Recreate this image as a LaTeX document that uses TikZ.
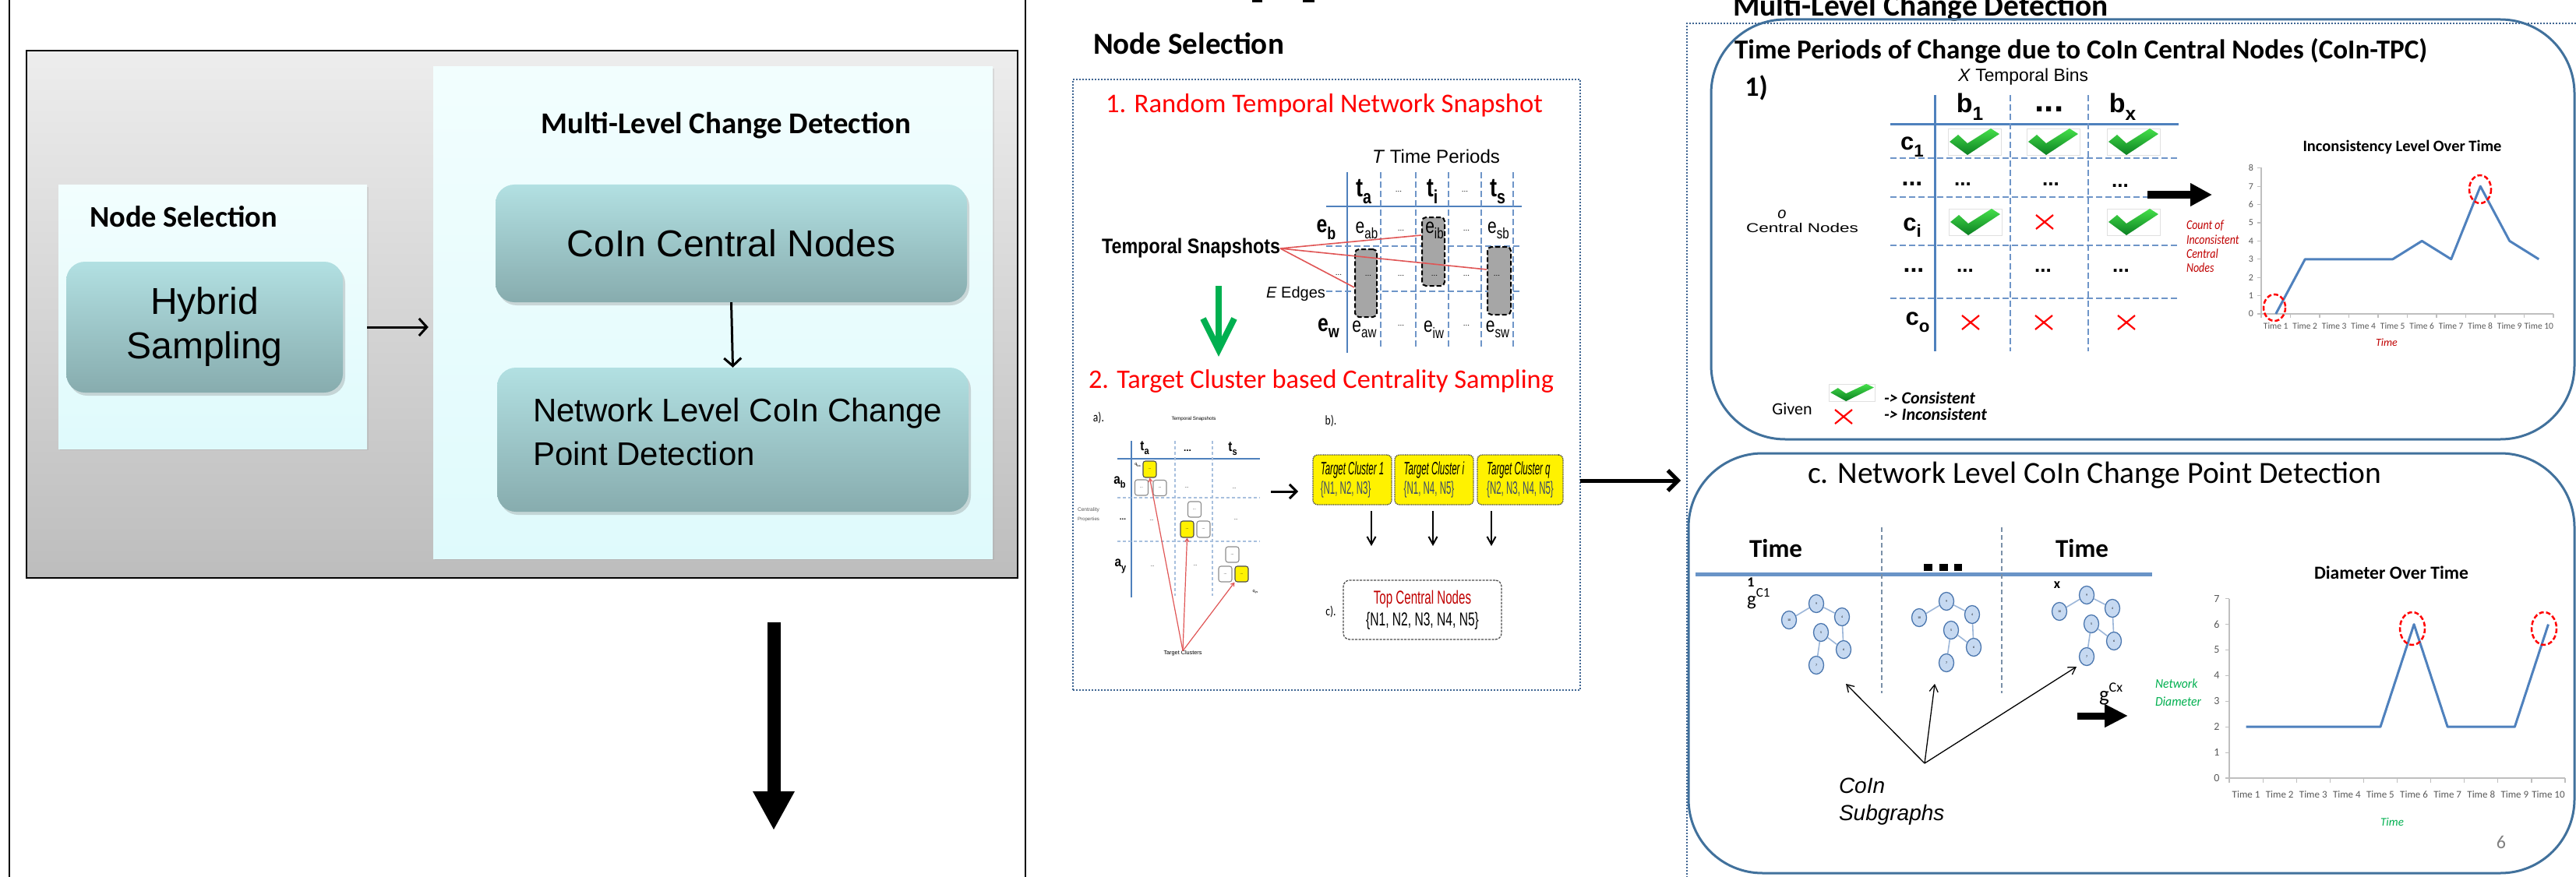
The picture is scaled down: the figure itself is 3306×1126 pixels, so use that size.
\documentclass[tikz,border=0pt]{standalone}
\usepackage{fontspec}
\usepackage{graphicx}
\setmainfont{Carlito}
\newfontfamily\arial{Liberation Sans}
\usetikzlibrary{arrows.meta,shadows,shapes.geometric,calc}

\definecolor{tealtop}{HTML}{B2E0E2}
\definecolor{tealbot}{HTML}{87ACAE}
\definecolor{cyantop}{HTML}{F2FEFE}
\definecolor{cyanbot}{HTML}{DFFAFC}
\definecolor{graytop}{HTML}{EDEDED}
\definecolor{graybot}{HTML}{BDBDBD}
\definecolor{officeblue}{HTML}{4F81BD}
\definecolor{frameblue}{HTML}{41719C}
\definecolor{dotblue}{HTML}{3F6592}
\definecolor{dashblue}{HTML}{6E95C8}
\definecolor{pptred}{HTML}{FF0000}
\definecolor{darkred}{HTML}{C00000}
\definecolor{pptgreen}{HTML}{00B050}
\definecolor{nodefill}{HTML}{C6D9F1}
\definecolor{nodeedge}{HTML}{4A76AE}
\definecolor{edgeblue}{HTML}{9DB7D9}
\definecolor{slate}{HTML}{3A4A6A}
\definecolor{axisgray}{HTML}{BFBFBF}
\definecolor{labgray}{HTML}{595959}
\definecolor{chkhi}{HTML}{45E04A}
\definecolor{chklo}{HTML}{0B7F22}
\definecolor{snapgray}{HTML}{A6A6A6}
\definecolor{linkred}{HTML}{E05555}
\definecolor{sepgray}{HTML}{7A90A8}

\newcommand\fs[1]{\fontsize{#1}{#1}\selectfont}
\newcommand\rw[2]{\resizebox{#1pt}{!}{#2}}
\newcommand\rwh[3]{\resizebox{#1pt}{#2pt}{#3}}
\newcommand\hs[2]{\scalebox{#1}[1]{#2}}
\newcommand\lo[1]{\raisebox{-0.28em}{\scalebox{0.72}{#1}}}

\tikzset{
  lbl/.style={inner sep=0pt, outer sep=0pt},
  cyanpanel/.style={inner sep=0pt, top color=cyantop, bottom color=cyanbot, draw=none,
     drop shadow={shadow xshift=2pt, shadow yshift=-2pt, opacity=0.18}},
  tealbox/.style={inner sep=0pt, rounded corners=24pt, top color=tealtop, bottom color=tealbot,
     drop shadow={shadow xshift=3pt, shadow yshift=-4pt, opacity=0.3}},
  barb/.style={line width=3pt, -{Straight Barb[length=10pt,width=22pt]}},
  thinarr/.style={line width=2pt, -{Straight Barb[length=10pt,width=11pt]}},
  tline/.style={officeblue, line width=2.5pt},
  tdash/.style={dashblue, line width=1.4pt, dash pattern=on 8pt off 4pt},
  lightdash/.style={dashblue!60, line width=1.2pt, dash pattern=on 4pt off 3pt},
  snapbox/.style={draw=black, fill=snapgray, line width=2pt, dash pattern=on 6pt off 3pt, rounded corners=5pt, inner sep=0pt},
  cellbox/.style={draw=black!45, fill=white, line width=1.1pt, rounded corners=3pt, inner sep=0pt, minimum width=17pt, minimum height=20pt, font=\fs{5}},
  ycellbox/.style={cellbox, fill=yellow, draw=black!70},
  clusterbox/.style={fill=yellow, draw=black!75, densely dotted, line width=1.3pt, rounded corners=6pt, inner sep=0pt, minimum height=64pt},
  roundframe/.style={draw=frameblue, line width=3pt, rounded corners=95pt, inner sep=0pt},
  gnode/.style={ellipse, draw=nodeedge, fill=nodefill, line width=1.3pt, minimum width=19pt, minimum height=23pt, inner sep=0pt, font=\fs{4}},
  gedge/.style={edgeblue, line width=1.6pt},
  redring/.style={pptred, line width=2.5pt, dash pattern=on 6pt off 3pt},
  snapred/.style={linkred, line width=1.6pt},
  chk/.pic={
    \fill[white] (-34,-17) rectangle (34,17);
    \draw[black!12, line width=0.8pt] (-34,-17) rectangle (34,17);
    \shade[top color=chkhi, bottom color=chklo] (-32,0) -- (-21,-9) -- (-9,2) -- (21,-17) -- (32,-10) -- (-9,17) -- cycle;
  },
  xmk/.pic={
    \draw[pptred, line width=2.2pt] (-11,-9) -- (11,9) (-11,9) -- (11,-9);
  },
}

\begin{document}
\begin{tikzpicture}[x=1pt,y=-1pt]
\useasboundingbox (0,0) rectangle (3306,1126);
\fill[white] (0,0) rectangle (3306,1126);

%% ---------------- left column: overview ----------------
\coordinate (lpA) at (12,0);   \coordinate (lpB) at (12,1126);
\coordinate (lpC) at (1316,0); \coordinate (lpD) at (1316,1126);
\draw[line width=2pt] (lpA) -- (lpB);
\draw[line width=2pt] (lpC) -- (lpD);

\node[lbl, draw=black, line width=2.5pt, top color=graytop, bottom color=graybot,
      minimum width=1272pt, minimum height=677pt] (graybox) at (670,403.5) {};

\node[cyanpanel, minimum width=396pt, minimum height=338pt] (nspanel) at (273,407) {};
\node[lbl, anchor=base west] (nstitle) at (115,291) {\rw{241}{\bfseries Node Selection}};
\node[tealbox, minimum width=355pt, minimum height=168pt, align=center,
      font=\arial\fontsize{48}{57}\selectfont] (hybrid) at (262.5,420) {Hybrid\\Sampling};

\node[cyanpanel, minimum width=718pt, minimum height=631pt] (mlpanel) at (915,401.5) {};
\node[lbl, anchor=base] (mltitle) at (932,172) {\rw{475}{\bfseries Multi-Level Change Detection}};
\node[tealbox, minimum width=605pt, minimum height=151pt, font=\arial\fs{48}] (coin) at (938.5,312.5) {CoIn Central Nodes};
\node[tealbox, minimum width=605pt, minimum height=185pt] (netbox) at (940.5,564.5) {};
\node[lbl, anchor=west, align=left, font=\arial\fontsize{42}{56}\selectfont] (nettxt) at (684,554) {Network Level CoIn Change\\Point Detection};

\draw[barb, shorten >=6pt] (nspanel.east |- hybrid.center) -- (mlpanel.west |- hybrid.center);
\draw[barb] (coin.south) -- (netbox.north);

\coordinate (bigtop) at (993,799); \coordinate (bigtip) at (993,1066);
\draw[line width=17pt, -{Triangle[length=50pt,width=50pt]}] (bigtop) -- (bigtip);

%% ---------------- middle column: node selection ----------------
\fill (1607,0) rectangle (1620,3);
\fill (1672,0) rectangle (1687,3);
\node[lbl, anchor=base] (nstitle2) at (1525.5,70) {\rw{245}{\bfseries Node Selection}};
\node[lbl, draw=dotblue, line width=2pt, dotted, minimum width=651pt, minimum height=784pt] (nsbox) at (1702.5,494) {};
\node[lbl, anchor=base, text=pptred] (stepone) at (1699.5,145) {\rw{561}{1. Random Temporal Network Snapshot}};
\node[lbl] (tper) at (1843,201) {\rw{164}{\arial\textit{T} Time Periods}};

% snapshot table
\draw[tline] (1729,221) -- (1729,453);
\draw[tline] (1702,265) -- (1953,265);
\foreach \x in {1772,1817,1859,1901,1942} \draw[tdash, line width=1.1pt] (\x,221) -- (\x,446);
\foreach \y in {316,374} \draw[tdash] (1702,\y) -- (1953,\y);
\node[snapbox, minimum width=28pt, minimum height=87pt] (sna) at (1753,363.5) {};
\node[snapbox, minimum width=29pt, minimum height=88pt] (sni) at (1839.5,323) {};
\node[snapbox, minimum width=30pt, minimum height=87pt] (sns) at (1924,360.5) {};

\node[lbl, font=\arial\bfseries\fs{34}] (hta) at (1750,246) {\hs{0.8}{t\lo{a}}};
\node[lbl, font=\arial\fs{10}] (hdA) at (1795,246) {...};
\node[lbl, font=\arial\bfseries\fs{34}] (hti) at (1838,246) {\hs{0.8}{t\lo{i}}};
\node[lbl, font=\arial\fs{10}] (hdB) at (1880,246) {...};
\node[lbl, font=\arial\bfseries\fs{34}] (hts) at (1922,246) {\hs{0.8}{t\lo{s}}};

\node[lbl, font=\arial\bfseries\fs{31}] (reb) at (1702,295) {\hs{0.8}{e\lo{b}}};
\node[lbl, font=\arial\fs{10}] (rdots) at (1718,353) {...};
\node[lbl, font=\arial\bfseries\fs{31}] (rew) at (1705,421) {\hs{0.8}{e\lo{w}}};

\node[lbl, font=\arial\fs{27}] (eab) at (1754,296) {\hs{0.78}{e\lo{ab}}};
\node[lbl, font=\arial\fs{10}] (ebd1) at (1798,296) {...};
\node[lbl, font=\arial\fs{27}] (eib) at (1841,296) {\hs{0.78}{e\lo{ib}}};
\node[lbl, font=\arial\fs{10}] (ebd2) at (1882,296) {...};
\node[lbl, font=\arial\fs{27}] (esb) at (1923,296) {\hs{0.78}{e\lo{sb}}};
\foreach \x [count=\i] in {1756,1798,1841,1882,1921}
  \node[lbl, font=\arial\fs{10}] (emd\i) at (\x,354) {...};
\node[lbl, font=\arial\fs{27}] (eaw) at (1751,423) {\hs{0.78}{e\lo{aw}}};
\node[lbl, font=\arial\fs{10}] (ewd1) at (1798,418) {...};
\node[lbl, font=\arial\fs{27}] (eiw) at (1840,423) {\hs{0.78}{e\lo{iw}}};
\node[lbl, font=\arial\fs{10}] (ewd2) at (1882,418) {...};
\node[lbl, font=\arial\fs{27}] (esw) at (1922,423) {\hs{0.78}{e\lo{sw}}};

\node[lbl] (tsnap) at (1528.5,319) {\rwh{229}{19.5}{\arial\bfseries Temporal Snapshots}};
\draw[snapred] (tsnap.east) -- ([yshift=21pt]sni.west);
\draw[snapred] (tsnap.east) -- ([yshift=14.5pt]sns.west);
\draw[snapred] (tsnap.east) -- ([yshift=-5.5pt]sna.west);
\node[lbl] (eedges) at (1663,377) {\arial\fs{20}\textit{E} Edges};

\coordinate (gtop) at (1564,367); \coordinate (gtip) at (1564,449);
\draw[pptgreen, line width=8pt] (gtop) -- ([yshift=6pt]gtip);
\draw[pptgreen, line width=8pt, line join=miter, miter limit=4]
  ([xshift=-20pt,yshift=40pt]gtip) -- (gtip) -- ([xshift=20pt,yshift=40pt]gtip);

\node[lbl, anchor=base, text=pptred] (steptwo) at (1695.5,498) {\rw{597}{2. Target Cluster based Centrality Sampling}};

% a) centrality table
\node[lbl, font=\fs{17}] (lba) at (1410,536) {\hs{0.8}{a).}};
\node[lbl] (tsmall) at (1532,538) {\rw{57}{\arial Temporal Snapshots}};
\draw[tline, line width=2pt] (1452,566) -- (1452,767);
\draw[tline, line width=2pt] (1434,589) -- (1617,589);
\foreach \x in {1508,1556} \draw[lightdash] (\x,566) -- (\x,765);
\foreach \y in {639,695} \draw[lightdash] (1434,\y) -- (1617,\y);
\node[lbl, font=\arial\bfseries\fs{18}] (sta) at (1469,575) {\hs{0.85}{t\lo{a}}};
\node[lbl, font=\arial\bfseries\fs{12}] (std) at (1524,579) {...};
\node[lbl, font=\arial\bfseries\fs{18}] (sts) at (1582,576) {\hs{0.85}{t\lo{s}}};
\node[lbl, font=\arial\bfseries\fs{18}] (sab) at (1437,619) {\hs{0.85}{a\lo{b}}};
\node[lbl, font=\arial\bfseries\fs{10}] (sad) at (1441,667) {...};
\node[lbl, font=\arial\bfseries\fs{18}] (say) at (1438,727) {\hs{0.85}{a\lo{y}}};
\node[lbl, anchor=west, text=labgray] (cprop1) at (1383,655) {\rw{28}{\arial Centrality}};
\node[lbl, anchor=west, text=labgray] (cprop2) at (1383,667) {\rw{28}{\arial Properties}};

\node[ycellbox, minimum height=21pt] (yq1) at (1475.5,602.5) {...};
\node[cellbox] (wq1) at (1465,626) {...};
\node[cellbox] (wq2) at (1488.5,626.5) {...};
\node[lbl, font=\fs{6}] (sd1) at (1523,626) {...};
\node[lbl, font=\fs{6}] (sd2) at (1584,627) {...};
\node[lbl, font=\fs{6}] (sd3) at (1478,668) {...};
\node[cellbox] (wq3) at (1533,654) {...};
\node[ycellbox, minimum height=21pt] (yq2) at (1523.5,679.5) {...};
\node[cellbox, minimum height=21pt] (wq4) at (1544.5,679.5) {...};
\node[lbl, font=\fs{6}] (sd4) at (1586,667) {...};
\node[lbl, font=\fs{6}] (sd5) at (1479,727) {...};
\node[lbl, font=\fs{6}] (sd6) at (1534,726) {...};
\node[cellbox] (wq5) at (1581.5,712) {...};
\node[cellbox] (wq6) at (1572.5,737) {...};
\node[ycellbox] (yq3) at (1593.5,737) {...};
\node[lbl, font=\fs{6}] (qba) at (1460,597) {q\lo{ba}};
\node[lbl, font=\fs{6}] (qys) at (1611,760) {q\lo{ys}};
\node[lbl] (tclu) at (1518,839) {\rw{49}{\arial Target Clusters}};
\draw[snapred, line width=1.2pt, -{Straight Barb[length=4pt,width=5pt]}] (tclu.north) -- (yq1.south);
\draw[snapred, line width=1.2pt, -{Straight Barb[length=4pt,width=5pt]}] (tclu.north) -- (yq2.south);
\draw[snapred, line width=1.2pt, -{Straight Barb[length=4pt,width=5pt]}] (tclu.north) -- (yq3.south west);

\coordinate (abA) at (1631,631); \coordinate (abB) at (1666,631);
\draw[barb, -{Straight Barb[length=9pt,width=18pt]}] (abA) -- (abB);

% b) target clusters
\node[lbl, font=\fs{17}] (lbb) at (1708,540) {\hs{0.8}{b).}};
\node[clusterbox, minimum width=101pt, align=left, font=\arial\fontsize{23}{25}\selectfont] (cla) at (1735.5,616)
  {\hs{0.5}{\itshape Target Cluster 1}\\\hs{0.5}{\color{slate}\{N1, N2, N3\}}};
\node[clusterbox, minimum width=101pt, align=left, font=\arial\fontsize{23}{25}\selectfont] (clb) at (1840.5,616)
  {\hs{0.5}{\itshape Target Cluster i}\\\hs{0.5}{\color{slate}\{N1, N4, N5\}}};
\node[clusterbox, minimum width=110pt, align=left, font=\arial\fontsize{23}{25}\selectfont] (clc) at (1951,616)
  {\hs{0.5}{\itshape Target Cluster q}\\\hs{0.5}{\color{slate}\{N2, N3, N4, N5\}}};
\coordinate (da1) at (1760,656); \coordinate (db1) at (1760,701);
\coordinate (da2) at (1839,656); \coordinate (db2) at (1839,701);
\coordinate (da3) at (1914,656); \coordinate (db3) at (1914,701);
\draw[thinarr] (da1) -- (db1);
\draw[thinarr] (da2) -- (db2);
\draw[thinarr] (da3) -- (db3);

% c) top central nodes
\node[lbl, font=\fs{17}] (lbc) at (1708,785) {\hs{0.8}{c).}};
\node[lbl, draw=black!70, dash pattern=on 3pt off 1.5pt, line width=1.3pt, rounded corners=8pt,
      minimum width=203pt, minimum height=76pt, align=center, font=\arial\fontsize{24}{28}\selectfont] (topc) at (1825.5,783)
  {\hs{0.63}{\color{darkred}Top Central Nodes}\\\hs{0.65}{\{N1, N2, N3, N4, N5\}}};

\coordinate (raEnd) at (2157,617);
\draw[line width=5pt, -{Straight Barb[length=13pt,width=26pt]}] (nsbox.east |- raEnd) -- (raEnd);

%% ---------------- right column: multi-level change detection ----------------
\node[lbl, anchor=base west] (mltitle2) at (2224,21) {\rw{482}{\bfseries Multi-Level Change Detection}};
\draw[dotblue, dotted, line width=2pt] (3306,30) -- (2165,30) -- (2165,1126);
\node[roundframe, minimum width=1108pt, minimum height=539pt] (tpcbox) at (2750,294.5) {};
\node[roundframe, minimum width=1137pt, minimum height=539pt] (netlvl) at (2735.5,851.5) {};

\node[lbl, anchor=base west] (tpctitle) at (2226,76) {\rw{889}{\bfseries Time Periods of Change due to CoIn Central Nodes (CoIn-TPC)}};
\node[lbl, font=\bfseries\fs{36}] (one) at (2254,113) {1)};
\node[lbl] (xbins) at (2596.5,99) {\rw{167}{\arial\textit{X} Temporal Bins}};

% consistency table
\draw[tline, line width=3pt] (2483,122) -- (2483,451);
\draw[tline, line width=3pt] (2426,160) -- (2796,160);
\foreach \x in {2580,2680} \draw[tdash] (\x,122) -- (\x,451);
\foreach \y in {203,253,315,383} \draw[tdash] (2426,\y) -- (2796,\y);

\node[lbl, font=\arial\bfseries\fs{34}] (hbone) at (2528,137) {b\lo{1}};
\node[lbl, font=\arial\bfseries\fs{44}] (hbdots) at (2630,140) {...};
\node[lbl, font=\arial\bfseries\fs{34}] (hbx) at (2724,137) {b\lo{x}};
\node[lbl, font=\arial\bfseries\fs{31}] (rcone) at (2454,189) {c\lo{1}};
\node[lbl, font=\arial\bfseries\fs{32}] (rcd1) at (2454,236) {...};
\node[lbl, font=\arial\bfseries\fs{31}] (rci) at (2454,292) {c\lo{i}};
\node[lbl, font=\arial\bfseries\fs{32}] (rcd2) at (2456,347) {...};
\node[lbl, font=\arial\bfseries\fs{31}] (rco) at (2461,414) {c\lo{o}};

\pic (k11) at (2534,182) {chk};
\pic (k12) at (2635,182) {chk};
\pic (k13) at (2738,182) {chk};
\node[lbl, font=\arial\bfseries\fs{26}] (cd21) at (2519,237) {...};
\node[lbl, font=\arial\bfseries\fs{26}] (cd22) at (2632,237) {...};
\node[lbl, font=\arial\bfseries\fs{26}] (cd23) at (2721,239) {...};
\pic (k31) at (2535,285) {chk};
\pic (x32) at (2624,285) {xmk};
\pic (k33) at (2738,285) {chk};
\node[lbl, font=\arial\bfseries\fs{26}] (cd41) at (2522,348) {...};
\node[lbl, font=\arial\bfseries\fs{26}] (cd42) at (2622,348) {...};
\node[lbl, font=\arial\bfseries\fs{26}] (cd43) at (2722,348) {...};
\pic (x51) at (2529,414) {xmk};
\pic (x52) at (2623,414) {xmk};
\pic (x53) at (2729,414) {xmk};

\node[lbl, font=\arial\itshape\fs{20}] (onode) at (2287,275) {o};
\node[lbl] (cnodes) at (2313,293) {\rwh{144}{12}{\arial Central Nodes}};

\coordinate (baA) at (2756,250); \coordinate (baB) at (2839,250);
\draw[line width=10pt, -{Triangle[length=28pt,width=28pt]}] (baA) -- (baB);

\node[lbl, anchor=west, text=darkred, font=\itshape\fs{17}] (cnt1) at (2806,290) {\hs{0.82}{Count of}};
\node[lbl, anchor=west, text=darkred, font=\itshape\fs{17}] (cnt2) at (2806,308) {\hs{0.82}{Inconsistent}};
\node[lbl, anchor=west, text=darkred, font=\itshape\fs{17}] (cnt3) at (2806,326) {\hs{0.82}{Central}};
\node[lbl, anchor=west, text=darkred, font=\itshape\fs{17}] (cnt4) at (2806,344) {\hs{0.82}{Nodes}};

% inconsistency chart
\node[lbl, anchor=base] (ictitle) at (3083,195) {\rw{255}{\bfseries Inconsistency Level Over Time}};
\draw[axisgray, line width=1.5pt] (2902,215) -- (2902,403) -- (3277,403);
\foreach \k in {0,...,8} {
  \draw[axisgray, line width=1.2pt] (2897,403-23.4*\k) -- (2902,403-23.4*\k);
  \node[lbl, font=\fs{12}, text=labgray] (ya\k) at (2889,403-23.4*\k) {\k};
}
\foreach \k in {0,...,10} \draw[axisgray, line width=1.2pt] (2902+37.5*\k,403) -- (2902+37.5*\k,408);
\foreach \k in {1,...,10} \node[lbl, font=\fs{11.5}, text=labgray] (xa\k) at (2902+37.5*\k-18.75,419) {Time \k};
\draw[officeblue, line width=3pt, line join=round] (2920.75,403) -- (2958.25,332.8) -- (2995.75,332.8) -- (3033.25,332.8)
  -- (3070.75,332.8) -- (3108.25,309.4) -- (3145.75,332.8) -- (3183.25,239.2) -- (3220.75,309.4) -- (3258.25,332.8);
\draw[redring] (2919,395) ellipse [x radius=14, y radius=17];
\draw[redring] (3183,243) ellipse [x radius=14, y radius=18];
\node[lbl, text=darkred, font=\itshape\fs{14}] (ictime) at (3063,440) {Time};

% legend
\node[lbl, font=\fs{22}] (given) at (2300,525) {Given};
\pic[xscale=0.87, yscale=0.65] (klg) at (2377,504) {chk};
\pic (xlg) at (2366,535) {xmk};
\node[lbl, anchor=west, font=\bfseries\itshape\fs{22}] (lgc) at (2418,511) {-{}> Consistent};
\node[lbl, anchor=west, font=\bfseries\itshape\fs{22}] (lgi) at (2418,532) {-{}> Inconsistent};

% network level panel
\node[lbl, anchor=base west] (nltitle) at (2320,620) {\rw{736}{c. Network Level CoIn Change Point Detection}};
\node[lbl] (timeA) at (2279,704) {\rw{68}{\bfseries Time}};
\node[lbl] (timeB) at (2672,704) {\rw{68}{\bfseries Time}};
\draw[officeblue!85!white, line width=5pt] (2176,737) -- (2762,737);
\fill (2469,724) rectangle (2480,733);
\fill (2489,724) rectangle (2500,733);
\fill (2508,724) rectangle (2518,733);
\draw[sepgray, line width=1.2pt, dash pattern=on 6pt off 4pt] (2415,677) -- (2415,890);
\draw[sepgray, line width=1.2pt, dash pattern=on 6pt off 4pt] (2569,677) -- (2569,890);

\node[lbl, font=\bfseries\fs{18}] (supone) at (2247,748) {1};
\node[lbl, anchor=base west] (gcone) at (2242,777) {\fs{25}g\raisebox{11pt}{\fs{17}C1}};
\node[lbl, font=\bfseries\fs{18}] (supx) at (2640,751) {x};
\node[lbl, anchor=base west] (gcx) at (2694,900) {\fs{27}g\raisebox{12pt}{\fs{18}Cx}};

% subgraphs
\foreach \g/\dx/\dy in {1/0/0, 2/167/-3, 3/347/-11} {
  \node[gnode] (n\g-10) at (2296+\dx,796+\dy) {10};
  \node[gnode] (n\g-9)  at (2331+\dx,775+\dy) {9};
  \node[gnode] (n\g-4)  at (2364+\dx,792+\dy) {4};
  \node[gnode] (n\g-5)  at (2337+\dx,812+\dy) {5};
  \node[gnode] (n\g-6)  at (2366+\dx,834+\dy) {6};
  \node[gnode] (n\g-7)  at (2331+\dx,854+\dy) {7};
  \draw[gedge] (n\g-10) -- (n\g-9);
  \draw[gedge] (n\g-9) -- (n\g-4);
  \draw[gedge] (n\g-4) -- (n\g-6);
  \draw[gedge] (n\g-5) -- (n\g-6);
  \draw[gedge] (n\g-5) -- (n\g-7);
}

\coordinate (csrc) at (2470,980);
\coordinate (cst1) at (2369,878);
\coordinate (cst2) at (2483,878);
\coordinate (cst3) at (2665,856);
\draw[line width=1.3pt, -{Straight Barb[length=9pt,width=11pt]}] (csrc) -- (cst1);
\draw[line width=1.3pt, -{Straight Barb[length=9pt,width=11pt]}] (csrc) -- (cst2);
\draw[line width=1.3pt, -{Straight Barb[length=9pt,width=11pt]}] (csrc) -- (cst3);
\node[lbl, anchor=base west, font=\arial\itshape\fs{28}] (csA) at (2360,1018) {CoIn};
\node[lbl, anchor=base west, font=\arial\itshape\fs{28}] (csB) at (2360,1053) {Subgraphs};

\coordinate (bbA) at (2666,919); \coordinate (bbB) at (2731,919);
\draw[line width=9pt, -{Triangle[length=30pt,width=28pt]}] (bbA) -- (bbB);
\node[lbl, anchor=west, text=pptgreen, font=\itshape\fs{17}] (ndA) at (2766,878) {\hs{0.92}{Network}};
\node[lbl, anchor=west, text=pptgreen, font=\itshape\fs{17}] (ndB) at (2766,901) {\hs{0.92}{Diameter}};

% diameter chart
\node[lbl, anchor=base] (dmtitle) at (3069,743) {\rw{198}{\bfseries Diameter Over Time}};
\draw[axisgray, line width=1.5pt] (2861,769) -- (2861,999) -- (3292,999);
\foreach \k in {0,...,7} {
  \draw[axisgray, line width=1.2pt] (2856,999-32.9*\k) -- (2861,999-32.9*\k);
  \node[lbl, font=\fs{14}, text=labgray] (yb\k) at (2845,999-32.9*\k) {\k};
}
\foreach \k in {0,...,10} \draw[axisgray, line width=1.2pt] (2861+43.1*\k,999) -- (2861+43.1*\k,1005);
\foreach \k in {1,...,10} \node[lbl, font=\fs{13}, text=labgray] (xb\k) at (2861+43.1*\k-21.55,1020) {Time \k};
\draw[officeblue, line width=3pt, line join=round] (2882.55,933.2) -- (3054.95,933.2) -- (3098.05,801.6)
  -- (3141.15,933.2) -- (3227.35,933.2) -- (3270.45,801.6);
\draw[redring] (3096,807) ellipse [x radius=16, y radius=21];
\draw[redring] (3265,807) ellipse [x radius=16, y radius=21];
\node[lbl, text=pptgreen, font=\itshape\fs{15}] (dmtime) at (3070,1055) {Time};
\node[lbl, text=black!50, font=\fs{24}] (pagenum) at (3210,1081) {6};

\end{tikzpicture}
\end{document}
